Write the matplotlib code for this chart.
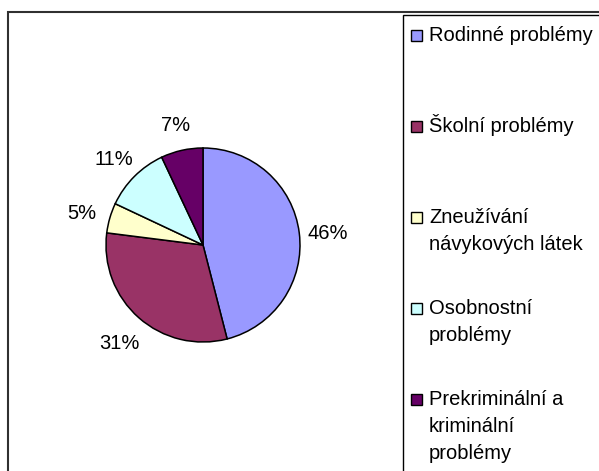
import matplotlib.pyplot as plt
from matplotlib.patches import Rectangle
from matplotlib.transforms import ScaledTranslation

# data
labels = ['Rodinné problémy', 'Školní problémy', 'Zneužívání\nnávykových látek',
          'Osobnostní\nproblémy', 'Prekriminální a\nkriminální\nproblémy']
values = [46, 31, 5, 11, 7]
colors = ['#9999FF', '#993366', '#FFFFCC', '#CCFFFF', '#660066']

plt.rcParams['font.family'] = ['Liberation Sans', 'DejaVu Sans']

W, H = 599, 471
fig = plt.figure(figsize=(W / 100, H / 100), dpi=100)


def fx(x):
    return x / W


def fy(y):
    return 1 - y / H


# outer frame of the chart area
fig.add_artist(Rectangle((fx(8), fy(H + 20)), fx(W + 20), (H + 20 - 12) / H,
                         transform=fig.transFigure, fill=False,
                         edgecolor='#303030', linewidth=1.5))

# pie
cx, cy, r = 203, 245, 97
ax = fig.add_axes([fx(cx - r), fy(cy + r), 2 * r / W, 2 * r / H])
wedges, texts, autotexts = ax.pie(values, colors=colors, startangle=90, counterclock=False,
                                  autopct='%1.0f%%', pctdistance=1.3,
                                  wedgeprops={'edgecolor': 'black', 'linewidth': 1.1,
                                              'clip_on': False},
                                  textprops={'fontsize': 14.5, 'color': 'black'})
ax.set_xlim(-1, 1)
ax.set_ylim(-1, 1)

# labels sit a little lower in the original
shift = ScaledTranslation(0, -4 / 100, fig.dpi_scale_trans)
for t in autotexts:
    t.set_transform(t.get_transform() + shift)

# legend box
fig.add_artist(Rectangle((fx(403), fy(H + 20)), fx(W), (H + 20 - 15) / H,
                         transform=fig.transFigure, fill=False,
                         edgecolor='black', linewidth=1))

for i, (lab, col) in enumerate(zip(labels, colors)):
    base = 41 + 91 * i
    fig.add_artist(Rectangle((fx(411), fy(base)), 11 / W, 11 / H,
                             transform=fig.transFigure, facecolor=col,
                             edgecolor='black', linewidth=1))
    for j, line in enumerate(lab.split('\n')):
        fig.text(fx(429), fy(base + 27 * j), line, fontsize=14.5,
                 ha='left', va='baseline')

fig.savefig('out.png', dpi=100)
